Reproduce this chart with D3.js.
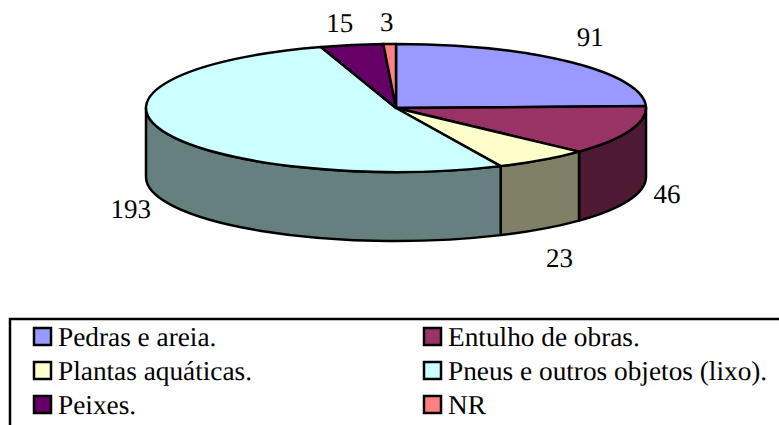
<!DOCTYPE html>
<html>
<head>
<meta charset="utf-8">
<script src="https://cdn.jsdelivr.net/npm/d3@7"></script>
<style>
  body { margin: 0; background: #fff; }
  text { font-family: "Liberation Serif", serif; fill: #000; text-rendering: geometricPrecision; }
  .value-label { font-size: 27px; text-anchor: middle; }
  .legend-label { font-size: 27.3px; }
</style>
</head>
<body>
<div id="chart"></div>
<script>
const categories = ["Pedras e areia.", "Entulho de obras.", "Plantas aquáticas.", "Pneus e outros objetos (lixo).", "Peixes.", "NR"];
const values = [91, 46, 23, 193, 15, 3];
const topColors = ["#9999ff", "#993366", "#ffffcc", "#ccffff", "#660066", "#ff8080"];
const wallColors = ["#4d4d80", "#4d1933", "#808066", "#668080", "#330033", "#804040"];

const width = 779, height = 425;
const cx = 396, cy = 108, rx = 250, ry = 64, depth = 69;

const svg = d3.select("#chart").append("svg")
    .attr("width", width)
    .attr("height", height)
    .style("display", "block");

const pie = d3.pie().sort(null)(values);

// angles are clockwise from 12 o'clock, same as d3.pie
const px = a => cx + rx * Math.sin(a);
const py = a => cy - ry * Math.cos(a);

// front wall, only the part of each slice between 3 and 9 o'clock shows
const wallPath = d => {
  const a0 = Math.max(d.startAngle, Math.PI / 2);
  const a1 = Math.min(d.endAngle, Math.PI * 1.5);
  if (a1 <= a0) return null;
  const large = a1 - a0 > Math.PI ? 1 : 0;
  return `M${px(a0)},${py(a0)}`
    + `A${rx},${ry} 0 ${large} 1 ${px(a1)},${py(a1)}`
    + `L${px(a1)},${py(a1) + depth}`
    + `A${rx},${ry} 0 ${large} 0 ${px(a0)},${py(a0) + depth}Z`;
};

const slicePath = d => {
  const large = d.endAngle - d.startAngle > Math.PI ? 1 : 0;
  return `M${cx},${cy}L${px(d.startAngle)},${py(d.startAngle)}`
    + `A${rx},${ry} 0 ${large} 1 ${px(d.endAngle)},${py(d.endAngle)}Z`;
};

svg.append("g").selectAll("path")
    .data(pie.filter(d => wallPath(d)))
  .join("path")
    .attr("d", wallPath)
    .attr("fill", d => wallColors[d.index])
    .attr("stroke", "#000")
    .attr("stroke-width", 2.5)
    .attr("stroke-linejoin", "round");

svg.append("g").selectAll("path")
    .data(pie)
  .join("path")
    .attr("d", slicePath)
    .attr("fill", d => topColors[d.index])
    .attr("stroke", "#000")
    .attr("stroke-width", 2.5)
    .attr("stroke-linejoin", "round");

// nudges from each slice's rim midpoint, wall slices measured from the wall bottom
const labelNudges = [[20, -26], [37, -5.5], [17, 28.5], [-32, 8.5], [-12, -22], [-3, -22]];

svg.append("g").selectAll("text")
    .data(pie)
  .join("text")
    .attr("class", "value-label")
    .attr("x", d => {
      const mid = (d.startAngle + d.endAngle) / 2;
      return px(mid) + labelNudges[d.index][0];
    })
    .attr("y", d => {
      const mid = (d.startAngle + d.endAngle) / 2;
      const front = Math.cos(mid) < 0 ? depth : 0;
      return py(mid) + front + labelNudges[d.index][1];
    })
    .attr("dy", "0.35em")
    .text(d => d.data);

// legend, two columns, open on the right and bottom
const legendLeft = 10, legendTop = 319;
svg.append("path")
    .attr("d", `M${legendLeft},${height}V${legendTop}H${width}`)
    .attr("fill", "none")
    .attr("stroke", "#000")
    .attr("stroke-width", 2.5);

const colX = d3.scalePoint().domain([0, 1]).range([34, 424]);
const rowY = d3.scalePoint().domain([0, 1, 2]).range([346, 414]);

const legend = svg.append("g").selectAll("g")
    .data(categories)
  .join("g")
    .attr("transform", (d, i) => `translate(${colX(i % 2)},${rowY(Math.floor(i / 2))})`);

legend.append("rect")
    .attr("y", -18)
    .attr("width", 17)
    .attr("height", 17)
    .attr("fill", (d, i) => topColors[i])
    .attr("stroke", "#000")
    .attr("stroke-width", 2.5);

legend.append("text")
    .attr("class", "legend-label")
    .attr("x", 24)
    .text(d => d);
</script>
</body>
</html>
